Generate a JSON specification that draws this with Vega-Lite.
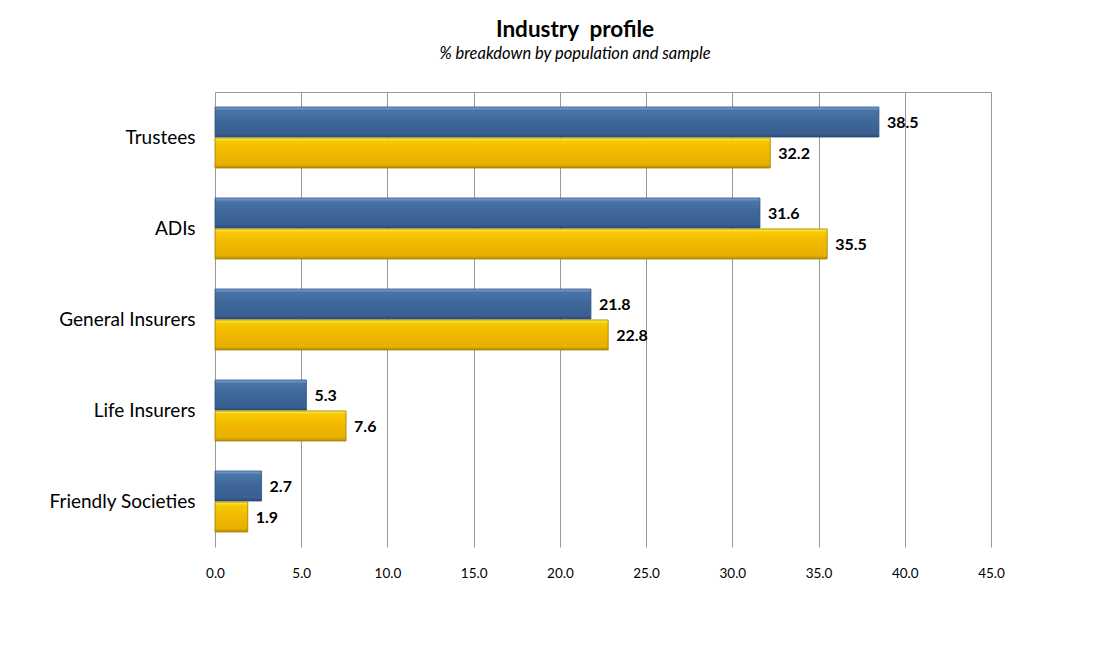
{
  "$schema": "https://vega.github.io/schema/vega-lite/v6.json",
  "autosize": {"type": "none"},
  "width": 776,
  "height": 455,
  "padding": {"left": 215, "top": 92, "right": 105, "bottom": 122},
  "background": "white",
  "title": {
    "text": "Industry\u00a0 profile",
    "subtitle": "% breakdown by population and sample",
    "anchor": "middle",
    "frame": "group",
    "dx": -28,
    "offset": 30,
    "font": "Lato",
    "fontSize": 22.5,
    "fontWeight": "bold",
    "color": "#000000",
    "subtitleFont": "Lato",
    "subtitleFontSize": 16.5,
    "subtitleFontStyle": "italic",
    "subtitleColor": "#000000",
    "subtitlePadding": 4
  },
  "config": {
    "view": {"stroke": null},
    "font": "Lato"
  },
  "data": {
    "values": [
      {"industry": "Trustees", "series": "Population", "value": 38.5},
      {"industry": "Trustees", "series": "Sample", "value": 32.2},
      {"industry": "ADIs", "series": "Population", "value": 31.6},
      {"industry": "ADIs", "series": "Sample", "value": 35.5},
      {"industry": "General Insurers", "series": "Population", "value": 21.8},
      {"industry": "General Insurers", "series": "Sample", "value": 22.8},
      {"industry": "Life Insurers", "series": "Population", "value": 5.3},
      {"industry": "Life Insurers", "series": "Sample", "value": 7.6},
      {"industry": "Friendly Societies", "series": "Population", "value": 2.7},
      {"industry": "Friendly Societies", "series": "Sample", "value": 1.9}
    ]
  },
  "encoding": {
    "y": {
      "field": "industry",
      "type": "nominal",
      "sort": ["Trustees", "ADIs", "General Insurers", "Life Insurers", "Friendly Societies"],
      "scale": {"paddingInner": 0.33, "paddingOuter": 0.165},
      "axis": {
        "title": null,
        "ticks": false,
        "domain": false,
        "labelFontSize": 19,
        "labelColor": "#000000",
        "labelPadding": 20,
        "labelFont": "Lato",
        "labelLimit": 250
      }
    },
    "yOffset": {
      "field": "series",
      "type": "nominal",
      "scale": {"domain": ["Population", "Sample"], "paddingInner": 0.03}
    }
  },
  "layer": [
    {
      "transform": [{"filter": "datum.series === 'Population'"}],
      "mark": {
        "type": "bar",
        "stroke": "#2E4E78",
        "strokeWidth": 0.8,
        "color": {
          "gradient": "linear",
          "x1": 0, "y1": 0, "x2": 0, "y2": 1,
          "stops": [
            {"offset": 0, "color": "#7FA6D6"},
            {"offset": 0.12, "color": "#4A74A8"},
            {"offset": 0.5, "color": "#3E6698"},
            {"offset": 0.88, "color": "#3A6092"},
            {"offset": 1, "color": "#2C4B74"}
          ]
        }
      },
      "encoding": {
        "x": {
          "field": "value",
          "type": "quantitative",
          "scale": {"domain": [0, 45], "nice": false},
          "axis": {
            "title": null,
            "orient": "bottom",
            "values": [0, 5, 10, 15, 20, 25, 30, 35, 40, 45],
            "format": ".1f",
            "grid": true,
            "gridColor": "#9A9A9A",
            "gridWidth": 1,
            "domain": false,
            "ticks": false,
            "labelFlush": false,
            "labelPadding": 19,
            "labelFontSize": 13.5,
            "labelColor": "#000000",
            "labelFont": "Lato"
          }
        }
      }
    },
    {
      "transform": [{"filter": "datum.series === 'Sample'"}],
      "mark": {
        "type": "bar",
        "stroke": "#A07C00",
        "strokeWidth": 0.8,
        "color": {
          "gradient": "linear",
          "x1": 0, "y1": 0, "x2": 0, "y2": 1,
          "stops": [
            {"offset": 0, "color": "#FFF04A"},
            {"offset": 0.12, "color": "#F6C800"},
            {"offset": 0.5, "color": "#F0B800"},
            {"offset": 0.88, "color": "#E8B000"},
            {"offset": 1, "color": "#B88E00"}
          ]
        }
      },
      "encoding": {
        "x": {
          "field": "value",
          "type": "quantitative",
          "scale": {"domain": [0, 45], "nice": false},
          "axis": {
            "title": null,
            "orient": "top",
            "labels": false,
            "ticks": false,
            "grid": false,
            "domain": true,
            "domainColor": "#9A9A9A",
            "domainWidth": 1
          }
        }
      }
    },
    {
      "mark": {
        "type": "text",
        "align": "left",
        "baseline": "middle",
        "dx": 8,
        "dy": 1,
        "fontSize": 16,
        "fontWeight": "bold",
        "font": "Lato",
        "color": "#000000"
      },
      "encoding": {
        "x": {
          "field": "value",
          "type": "quantitative",
          "scale": {"domain": [0, 45], "nice": false},
          "axis": null
        },
        "text": {"field": "value", "type": "quantitative", "format": ".1f"}
      }
    }
  ],
  "resolve": {"axis": {"x": "independent"}}
}
